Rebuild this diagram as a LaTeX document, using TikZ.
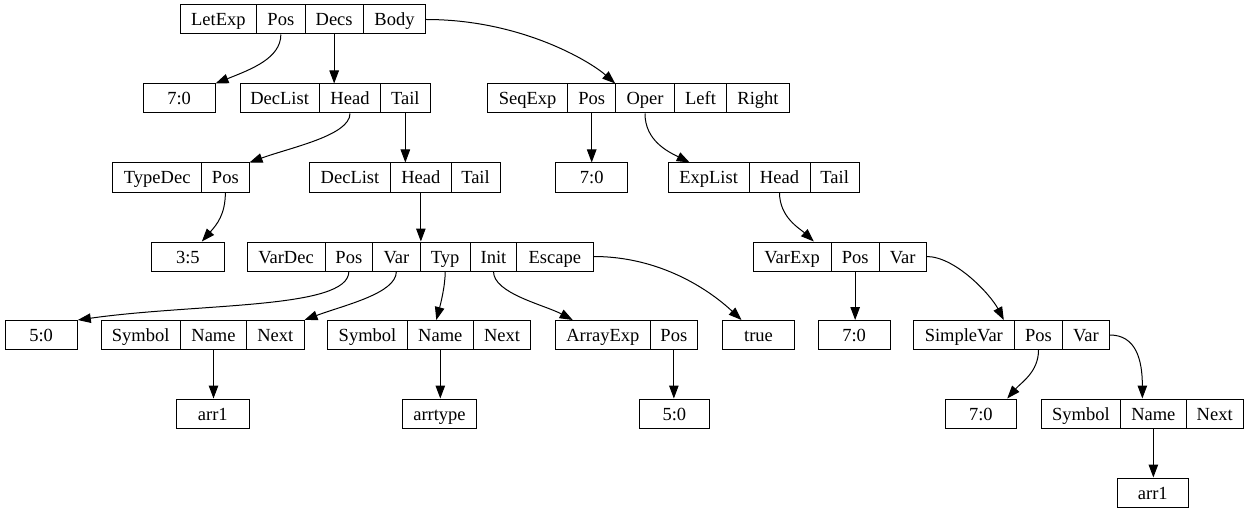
\documentclass[tikz,border=0pt]{standalone}
\usepackage{fontspec}
\setmainfont{Liberation Serif}
\usetikzlibrary{arrows.meta,calc}
\newcommand{\fld}[5]{\node[fld,minimum width={(#3)-(#2)}] (#1) at ({((#2)+(#3))/2},#4) {#5};}
\begin{document}
\begin{tikzpicture}[x=1pt,y=-1pt,
  fld/.style={draw,line width=1pt,inner sep=0pt,minimum height=29pt,text height=13pt,text depth=0pt,font=\fontsize{18.5}{22}\selectfont},
  edge/.style={line width=1pt,-{Triangle[length=13pt,width=9.5pt]}}]
\useasboundingbox (0,0) rectangle (1249,513);
% row 0
\fld{le-a}{180}{256.7}{19.5}{LetExp}
\fld{le-pos}{256.7}{305}{19.5}{Pos}
\fld{le-decs}{305}{363.3}{19.5}{Decs}
\fld{le-body}{363.3}{425.7}{19.5}{Body}
% row 1
\fld{a70}{143.3}{215}{98.5}{7:0}
\fld{dl1-a}{240}{319.3}{98.5}{DecList}
\fld{dl1-head}{319.3}{380.7}{98.5}{Head}
\fld{dl1-tail}{380.7}{430}{98.5}{Tail}
\fld{se-a}{487.7}{567.7}{98.5}{SeqExp}
\fld{se-pos}{567.7}{615.7}{98.5}{Pos}
\fld{se-oper}{615.7}{674.3}{98.5}{Oper}
\fld{se-left}{674.3}{726.7}{98.5}{Left}
\fld{se-right}{726.7}{789.3}{98.5}{Right}
% row 2
\fld{ty-a}{112.7}{201.7}{177.5}{TypeDec}
\fld{ty-pos}{201.7}{249}{177.5}{Pos}
\fld{dl2-a}{309.3}{390.7}{177.5}{DecList}
\fld{dl2-head}{390.7}{451}{177.5}{Head}
\fld{dl2-tail}{451}{500}{177.5}{Tail}
\fld{b70}{555.7}{627.7}{177.5}{7:0}
\fld{el-a}{668.3}{749}{177.5}{ExpList}
\fld{el-head}{749}{810}{177.5}{Head}
\fld{el-tail}{810}{859.3}{177.5}{Tail}
% row 3
\fld{c35}{151.7}{224}{256.5}{3:5}
\fld{vd-a}{247}{325}{256.5}{VarDec}
\fld{vd-pos}{325}{372.7}{256.5}{Pos}
\fld{vd-var}{372.7}{420}{256.5}{Var}
\fld{vd-typ}{420}{470.4}{256.5}{Typ}
\fld{vd-init}{470.4}{516.6}{256.5}{Init}
\fld{vd-esc}{516.6}{593}{256.5}{Escape}
\fld{vx-a}{753.3}{831}{256.5}{VarExp}
\fld{vx-pos}{831}{879.3}{256.5}{Pos}
\fld{vx-var}{879.3}{926}{256.5}{Var}
% row 4
\fld{a50}{5}{77.3}{335}{5:0}
\fld{s1-a}{101}{180.3}{335}{Symbol}
\fld{s1-name}{180.3}{246.7}{335}{Name}
\fld{s1-next}{246.7}{304}{335}{Next}
\fld{s2-a}{327.7}{407.3}{335}{Symbol}
\fld{s2-name}{407.3}{473.3}{335}{Name}
\fld{s2-next}{473.3}{530.7}{335}{Next}
\fld{ae-a}{555.7}{650}{335}{ArrayExp}
\fld{ae-pos}{650}{697.7}{335}{Pos}
\fld{tru}{722.7}{794.3}{335}{true}
\fld{c70}{818.3}{890}{335}{7:0}
\fld{sv-a}{913.3}{1014.3}{335}{SimpleVar}
\fld{sv-pos}{1014.3}{1062.7}{335}{Pos}
\fld{sv-var}{1062.7}{1109.3}{335}{Var}
% row 5
\fld{ar1}{176.7}{249}{413.5}{arr1}
\fld{art}{402.3}{476.7}{413.5}{arrtype}
\fld{b50}{639}{709.8}{413.5}{5:0}
\fld{d70}{945}{1016.7}{413.5}{7:0}
\fld{s3-a}{1041}{1120.7}{413.5}{Symbol}
\fld{s3-name}{1120.7}{1186}{413.5}{Name}
\fld{s3-next}{1186}{1243.3}{413.5}{Next}
% row 6
\fld{ar2}{1117.3}{1188.3}{492.5}{arr1}
% edges
\draw[edge] (le-pos.south) .. controls +(0,24) and +(35,-14) .. (a70.north east);
\draw[edge] (le-decs.south) -- (le-decs.south |- dl1-head.north);
\draw[edge] (le-body.east) .. controls +(95,0) and +(-25,-22) .. (se-oper.north west);
\draw[edge] (dl1-head.south) .. controls +(0,22) and +(41,-15) .. (ty-pos.north east);
\draw[edge] (dl1-tail.south) -- (dl1-tail.south |- dl2-head.north);
\draw[edge] (se-pos.south) -- (b70.north);
\draw[edge] (se-oper.south) .. controls +(0,27) and +(-22,-11) .. ($(el-a.north)+(-19,0)$);
\draw[edge] (ty-pos.south) .. controls +(0,22) and +(15,-17) .. ($(c35.north)+(14,0)$);
\draw[edge] (dl2-head.south) -- (dl2-head.south |- vd-var.north);
\draw[edge] (el-head.south) .. controls +(0,25) and +(-14,-13) .. ($(vx-a.north east)+(-17.7,0)$);
\draw[edge] (vd-pos.south) .. controls +(0,38) and +(120,-17) .. (a50.north east);
\draw[edge] (vd-var.south) .. controls +(0,22) and +(40,-15) .. (s1-next.north east);
\draw[edge] (vd-typ.south) .. controls +(0,15) and +(4,-15) .. ($(s2-name.north)+(-4,0)$);
\draw[edge] (vd-init.south) .. controls +(0,22) and +(-28,-15) .. ($(ae-a.north west)+(17.5,0)$);
\draw[edge] (vd-esc.east) .. controls +(67,0) and +(-32,-30) .. ($(tru.north)+(-17,0)$);
\draw[edge] (vx-pos.south) -- (vx-pos.south |- c70.north);
\draw[edge] (vx-var.east) .. controls +(29,0) and +(-13,-25) .. ($(sv-a.north east)+(-11,0)$);
\draw[edge] (s1-name.south) -- (s1-name.south |- ar1.north);
\draw[edge] (s2-name.south) -- (s2-name.south |- art.north);
\draw[edge] (ae-pos.south) -- (ae-pos.south |- b50.north);
\draw[edge] (sv-pos.south) .. controls +(0,22) and +(14,-16) .. ($(d70.north east)+(-10,0)$);
\draw[edge] (sv-var.east) .. controls +(26,0) and +(0,-39) .. ($(s3-name.north)+(-11,0)$);
\draw[edge] (s3-name.south) -- (s3-name.south |- ar2.north);
\end{tikzpicture}
\end{document}
